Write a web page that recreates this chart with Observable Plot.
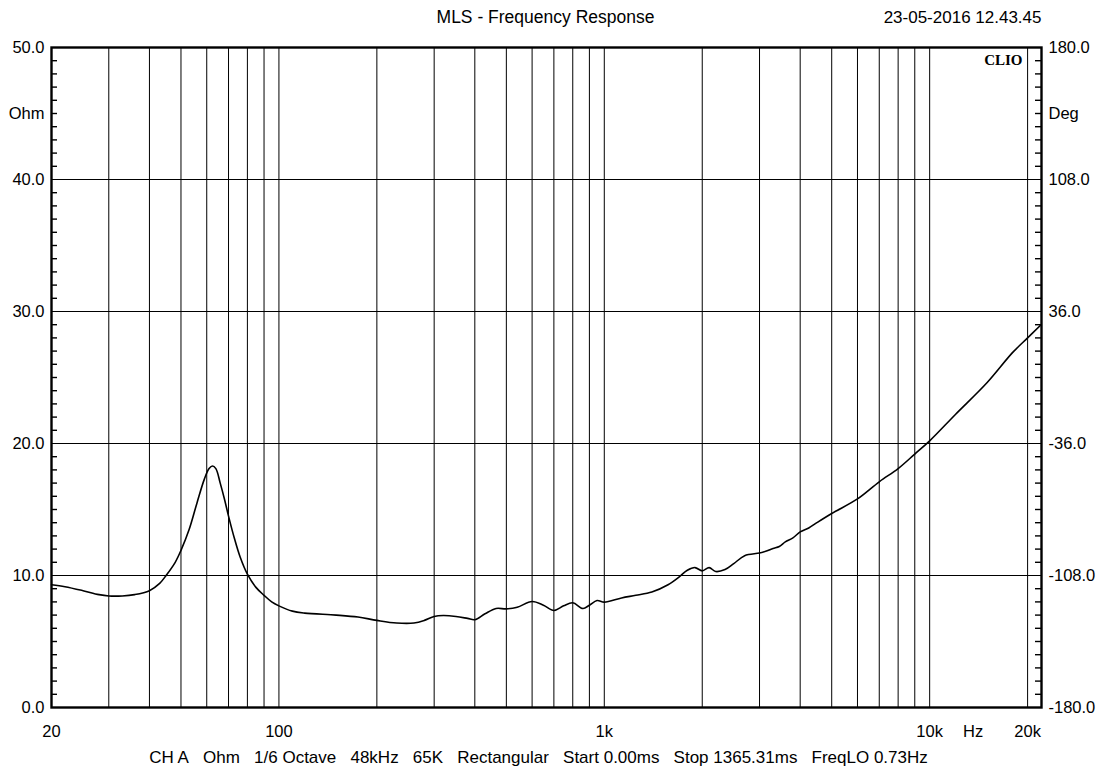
<!DOCTYPE html>
<html>
<head>
<meta charset="utf-8">
<script src="https://cdn.jsdelivr.net/npm/d3@7"></script>
<script src="https://cdn.jsdelivr.net/npm/@observablehq/plot@0.6"></script>
<style>
  body { margin: 0; background: #fff; }
  svg { display: block; }
</style>
</head>
<body>
<div id="chart"></div>
<script>
// Impedance magnitude measured with MLS (frequency in Hz, impedance in Ohm)
const freqHz = [
  20, 22, 25, 28, 30, 33, 36, 40, 43, 45, 48, 50, 53, 56, 59, 61, 62.5, 64, 66, 68,
  70, 73, 76, 80, 85, 90, 95, 100, 110, 120, 150, 175, 200, 230, 260, 280, 300, 320,
  350, 380, 400, 430, 465, 500, 540, 600, 650, 700, 750, 800, 860, 900, 950, 1000,
  1130, 1250, 1400, 1570, 1700, 1800, 1900, 2000, 2100, 2200, 2350, 2500, 2700, 3000,
  3150, 3300, 3450, 3600, 3800, 4000, 4250, 4500, 5000, 6000, 7000, 8000, 9000, 10000,
  12000, 15000, 18000, 20000, 22000
];
const impedanceOhm = [
  9.3, 9.15, 8.85, 8.55, 8.45, 8.45, 8.55, 8.85, 9.4, 10.0, 11.0, 11.9, 13.5, 15.5, 17.3, 18.1, 18.3, 18.1, 17.0, 15.8,
  14.5, 12.8, 11.4, 10.1, 9.1, 8.5, 8.0, 7.7, 7.3, 7.15, 7.0, 6.85, 6.6, 6.4, 6.4, 6.6, 6.9, 6.97,
  6.9, 6.75, 6.65, 7.1, 7.5, 7.47, 7.6, 8.03, 7.75, 7.35, 7.7, 7.93, 7.5, 7.75, 8.1, 7.98,
  8.3, 8.5, 8.75, 9.3, 9.9, 10.4, 10.6, 10.35, 10.6, 10.3, 10.45, 10.9, 11.5, 11.7,
  11.85, 12.05, 12.2, 12.55, 12.85, 13.3, 13.6, 14.0, 14.7, 15.8, 17.1, 18.1, 19.2, 20.2,
  22.2, 24.6, 26.9, 28.0, 29.0
];

// Axes and grid
const ohmTicks = [0, 10, 20, 30, 40, 50];
const degTickLabels = ["-180.0", "-108.0", "-36.0", "36.0", "108.0", "180.0"];
const ohmMinorTicks = d3.range(1, 50).filter(v => v % 10 !== 0);
const freqGrid = [30, 40, 50, 60, 70, 80, 90, 100, 200, 300, 400, 500, 600, 700, 800, 900,
  1000, 2000, 3000, 4000, 5000, 6000, 7000, 8000, 9000, 10000, 20000];
const freqTickValues = [20, 100, 1000, 10000, 20000];
const freqTickLabels = ["20", "100", "1k", "10k", "20k"];
const freqDomain = [20, 22067];
const freqUnit = {label: "Hz", at: 13600};
const leftUnit = {label: "Ohm", at: 45};
const rightUnit = {label: "Deg", at: 45};

// Header and footer texts
const titleText = "MLS - Frequency Response";
const stampText = "23-05-2016 12.43.45";
const brandText = "CLIO";
const captionParts = ["CH A", "Ohm", "1/6 Octave", "48kHz", "65K", "Rectangular",
  "Start 0.00ms", "Stop 1365.31ms", "FreqLO 0.73Hz"];

const impedanceCurve = freqHz.map((f, i) => ({f, z: impedanceOhm[i]}));

const W = 1105, H = 770;
const mL = 51, mR = 64, mT = 47, mB = 63;
const innerW = W - mL - mR;
const tickLen = 6;
const gap = "\u00a0\u00a0\u00a0";

const chart = Plot.plot({
  width: W,
  height: H,
  marginLeft: mL,
  marginRight: mR,
  marginTop: mT,
  marginBottom: mB,
  style: {
    fontFamily: "'Liberation Sans', Arial, sans-serif",
    fontSize: "16.5px",
    color: "#000",
    background: "#fff"
  },
  x: {type: "log", domain: freqDomain, axis: null},
  y: {domain: [0, 50], axis: null},
  marks: [
    // grid
    Plot.ruleX(freqGrid, {x: d => d, stroke: "#000", strokeWidth: 1}),
    Plot.ruleY(ohmTicks.slice(1, -1), {y: d => d, stroke: "#000", strokeWidth: 1}),
    // minor ticks, pointing inward on both sides
    Plot.ruleY(ohmMinorTicks, {y: d => d, insetRight: innerW - tickLen, stroke: "#000", strokeWidth: 1.4}),
    Plot.ruleY(ohmMinorTicks, {y: d => d, insetLeft: innerW - tickLen, stroke: "#000", strokeWidth: 1.4}),
    // impedance curve
    Plot.line(impedanceCurve, {x: "f", y: "z", curve: "catmull-rom", stroke: "#000", strokeWidth: 1.6}),
    Plot.frame({stroke: "#000", strokeWidth: 2.4}),
    // left axis labels (Ohm)
    Plot.text(ohmTicks, {y: d => d, frameAnchor: "left", dx: -7, textAnchor: "end",
      text: d => d.toFixed(1), fill: "#000"}),
    Plot.text([leftUnit], {y: "at", text: "label", frameAnchor: "left", dx: -7, textAnchor: "end", fill: "#000"}),
    // right axis labels (Deg)
    Plot.text(ohmTicks, {y: d => d, frameAnchor: "right", dx: 7, textAnchor: "start",
      text: (d, i) => degTickLabels[i], fill: "#000"}),
    Plot.text([rightUnit], {y: "at", text: "label", frameAnchor: "right", dx: 7, textAnchor: "start", fill: "#000"}),
    // frequency labels
    Plot.text(freqTickValues, {x: d => d, frameAnchor: "bottom", dy: 24, lineAnchor: "middle",
      text: (d, i) => freqTickLabels[i], fill: "#000"}),
    Plot.text([freqUnit], {x: "at", text: "label", frameAnchor: "bottom", dy: 24, lineAnchor: "middle", fill: "#000"}),
    // header
    Plot.text([titleText], {text: d => d, frameAnchor: "top", dx: -1, dy: -30, lineAnchor: "middle",
      fontSize: 17.5, fill: "#000"}),
    Plot.text([stampText], {text: d => d, frameAnchor: "top-right", dy: -30, textAnchor: "end", lineAnchor: "middle",
      fontSize: 17, fill: "#000"}),
    Plot.text([brandText], {text: d => d, frameAnchor: "top-right", dx: -19, dy: 13, textAnchor: "end", lineAnchor: "middle",
      fontFamily: "'Liberation Serif', 'Times New Roman', serif", fontWeight: "bold", fontSize: 15, fill: "#000"}),
    // footer
    Plot.text([captionParts.join(gap)], {text: d => d, frameAnchor: "bottom", dx: -8, dy: 50, lineAnchor: "middle",
      fontSize: 17, fill: "#000"})
  ]
});

document.getElementById("chart").append(chart);
</script>
</body>
</html>
